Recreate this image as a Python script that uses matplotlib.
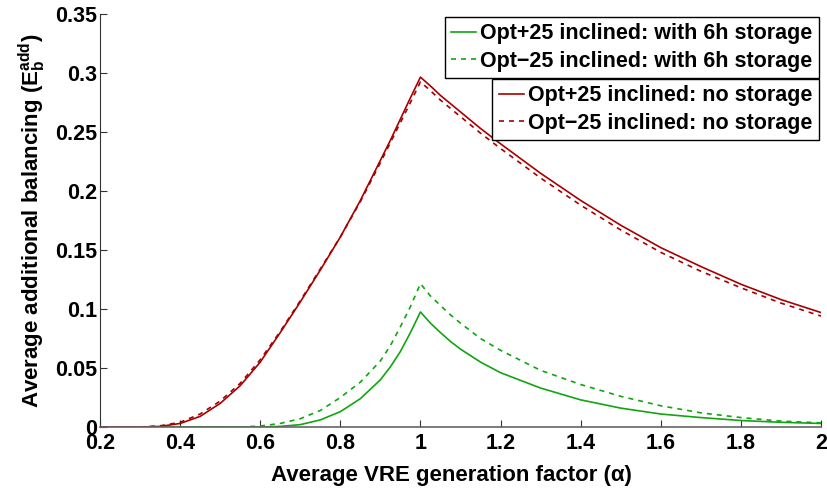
import matplotlib
matplotlib.use("Agg")
import matplotlib.pyplot as plt

plt.rcParams['font.family'] = ['Liberation Sans', 'DejaVu Sans']
plt.rcParams['mathtext.fontset'] = 'custom'
plt.rcParams['mathtext.rm'] = 'Liberation Sans:bold'
plt.rcParams['mathtext.bf'] = 'Liberation Sans:bold'
plt.rcParams['mathtext.it'] = 'Liberation Sans:bold'

# ---- data ----
alpha_up = [0.20, 0.25, 0.30, 0.35, 0.40, 0.45, 0.50, 0.55, 0.60, 0.65, 0.70, 0.75,
            0.80, 0.85, 0.90, 0.925, 0.95, 0.975, 1.00]
alpha_down = [1.00, 1.025, 1.05, 1.075, 1.10, 1.15, 1.20, 1.30, 1.40, 1.50, 1.60, 1.70,
              1.80, 1.90, 2.00]

red_solid_up = [0, 0, 0, 0.0005, 0.003, 0.009, 0.020, 0.035, 0.055, 0.080, 0.106, 0.133,
                0.161, 0.192, 0.226, 0.243, 0.261, 0.279, 0.2965]
red_solid_down = [0.2965, 0.289, 0.281, 0.274, 0.267, 0.253, 0.240, 0.215, 0.192, 0.171,
                  0.152, 0.136, 0.121, 0.108, 0.097]
red_dash_up = [0, 0, 0, 0.001, 0.004, 0.011, 0.022, 0.037, 0.057, 0.081, 0.107, 0.134,
               0.161, 0.191, 0.224, 0.241, 0.258, 0.275, 0.2925]
red_dash_down = [0.2925, 0.285, 0.277, 0.270, 0.263, 0.249, 0.236, 0.211, 0.188, 0.167,
                 0.148, 0.132, 0.118, 0.105, 0.094]
green_solid_up = [0, 0, 0, 0, 0, 0, 0, 0, 0, 0.0005, 0.002, 0.006,
                  0.013, 0.024, 0.040, 0.051, 0.064, 0.080, 0.0975]
green_solid_down = [0.0975, 0.088, 0.080, 0.0725, 0.066, 0.055, 0.046, 0.033, 0.023, 0.016,
                    0.011, 0.008, 0.0055, 0.004, 0.003]
green_dash_up = [0, 0, 0, 0, 0, 0, 0, 0, 0.0008, 0.003, 0.007, 0.014,
                 0.025, 0.038, 0.056, 0.069, 0.085, 0.102, 0.1215]
green_dash_down = [0.1215, 0.111, 0.103, 0.095, 0.088, 0.075, 0.065, 0.048, 0.036, 0.026,
                   0.018, 0.012, 0.008, 0.005, 0.0035]

x_ticks = [0.2, 0.4, 0.6, 0.8, 1.0, 1.2, 1.4, 1.6, 1.8, 2.0]
x_ticklabels = ['0.2', '0.4', '0.6', '0.8', '1', '1.2', '1.4', '1.6', '1.8', '2']
y_ticks = [0, 0.05, 0.1, 0.15, 0.2, 0.25, 0.3, 0.35]
y_ticklabels = ['0', '0.05', '0.1', '0.15', '0.2', '0.25', '0.3', '0.35']

RED = '#a80000'
GREEN = '#11a511'

fig = plt.figure(figsize=(8.27, 4.94), dpi=100)
ax = fig.add_axes([100/827, 1-427/494, 721/827, 413/494])

ax_alpha = alpha_up + alpha_down[1:]
g1, = ax.plot(ax_alpha, green_solid_up + green_solid_down[1:], color=GREEN, lw=1.2, ls='-')
g2, = ax.plot(ax_alpha, green_dash_up + green_dash_down[1:], color=GREEN, lw=1.2, ls=(0, (3, 3)))
r1, = ax.plot(ax_alpha, red_solid_up + red_solid_down[1:], color=RED, lw=1.2, ls='-')
r2, = ax.plot(ax_alpha, red_dash_up + red_dash_down[1:], color=RED, lw=1.2, ls=(0, (3, 3)))

ax.set_xlim(0.2, 2.0)
ax.set_ylim(0, 0.35)
ax.set_xticks(x_ticks)
ax.set_xticklabels(x_ticklabels)
ax.set_yticks(y_ticks)
ax.set_yticklabels(y_ticklabels)
for lab in ax.get_xticklabels() + ax.get_yticklabels():
    lab.set_fontweight('bold')
    lab.set_fontsize(15.5)
ax.tick_params(direction='in', length=5, width=0.8, color='#333333')
ax.tick_params(axis='x', pad=4)
ax.tick_params(axis='y', pad=2)
ax.spines['top'].set_visible(False)
ax.spines['right'].set_visible(False)
ax.spines['left'].set_color('#333333')
ax.spines['bottom'].set_color('#666666')
ax.spines['bottom'].set_linewidth(1.2)

ax.set_xlabel('Average VRE generation factor (α)', fontsize=16, fontweight='bold', va='top')
ax.xaxis.set_label_coords(0.488, -0.093)
ax.set_ylabel(r'Average additional balancing ($\mathbf{E_b^{add}}$)', fontsize=16, fontweight='bold')
ax.yaxis.set_label_coords(-0.072, 0.50)

leg_kw = dict(loc='upper right', frameon=True, fancybox=False, framealpha=1,
              edgecolor='black', borderaxespad=0, handlelength=1.15, handletextpad=0.2,
              borderpad=0.3, labelspacing=0.3, prop={'weight': 'bold', 'size': 15.5})
leg1 = ax.legend([g1, g2], ['Opt+25 inclined: with 6h storage', 'Opt\u221225 inclined: with 6h storage'],
                 bbox_to_anchor=(0.997, 0.993), **leg_kw)
leg1.get_frame().set_linewidth(1.0)
ax.add_artist(leg1)
leg2 = ax.legend([r1, r2], ['Opt+25 inclined: no storage', 'Opt\u221225 inclined: no storage'],
                 bbox_to_anchor=(0.997, 0.843), **leg_kw)
leg2.get_frame().set_linewidth(1.0)

fig.savefig('out.png', dpi=100)
